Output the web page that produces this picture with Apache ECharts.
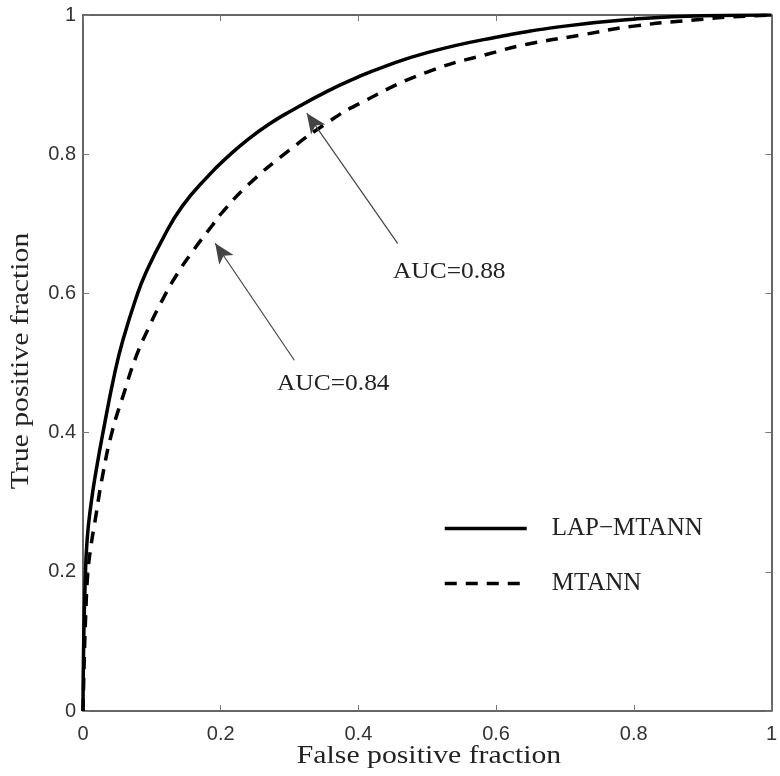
<!DOCTYPE html>
<html>
<head>
<meta charset="utf-8">
<script src="https://cdn.jsdelivr.net/npm/echarts@6/dist/echarts.min.js"></script>
<style>
  html, body { margin: 0; padding: 0; background: #fff; }
  #chart { width: 780px; height: 776px; }
</style>
</head>
<body>
<div id="chart"></div>
<script>
// ROC curves: [false positive fraction, true positive fraction]
const lapMtann = [
  [0, 0], [0.001, 0.1], [0.003, 0.18], [0.006, 0.246], [0.012, 0.3],
  [0.019, 0.345], [0.029, 0.4], [0.046, 0.485], [0.058, 0.533], [0.079, 0.599],
  [0.091, 0.629], [0.115, 0.677], [0.144, 0.725], [0.183, 0.77], [0.212, 0.798],
  [0.238, 0.82], [0.27, 0.843], [0.3, 0.861], [0.356, 0.891], [0.4, 0.911],
  [0.43, 0.923], [0.5, 0.946], [0.6, 0.968], [0.7, 0.984], [0.8, 0.994],
  [0.9, 0.999], [1, 1]
]
const mtann = [
  [0, 0], [0.002, 0.08], [0.004, 0.14], [0.007, 0.198], [0.012, 0.24],
  [0.017, 0.27], [0.029, 0.341], [0.043, 0.404], [0.058, 0.452], [0.077, 0.509],
  [0.096, 0.552], [0.115, 0.59], [0.135, 0.625], [0.159, 0.66], [0.188, 0.698],
  [0.202, 0.716], [0.24, 0.756], [0.3, 0.806], [0.356, 0.846], [0.4, 0.872],
  [0.5, 0.918], [0.6, 0.947], [0.645, 0.958], [0.722, 0.971], [0.8, 0.984],
  [0.9, 0.994], [0.938, 0.997], [1, 1]
]
const seriesNames = ['LAP\u2212MTANN', 'MTANN']
const xTitle = 'False positive fraction'
const yTitle = 'True positive fraction'
const aucLabels = ['AUC=0.88', 'AUC=0.84']
// arrows: [from, to] in data units
const arrow88 = [[0.457, 0.672], [0.325, 0.859]]
const arrow84 = [[0.307, 0.504], [0.192, 0.672]]

const serif = '"Liberation Serif", "Times New Roman", serif'
const sans = '"Liberation Sans", Arial, sans-serif'

const tick = { inside: true, length: 6, lineStyle: { color: '#777', width: 1 } }
const line = { show: true, onZero: false, lineStyle: { color: '#333', width: 1.5 } }
const label = { fontFamily: sans, fontSize: 20, color: '#333' }

const chart = echarts.init(document.getElementById('chart'))
chart.setOption({
  animation: false,
  grid: { left: 83, right: 4, top: 15, bottom: 65 },
  xAxis: [{
    type: 'value', min: 0, max: 1, interval: 0.2,
    axisLine: line, axisTick: tick, splitLine: { show: false },
    axisLabel: Object.assign({ margin: 13 }, label),
  }, {
    type: 'value', min: 0, max: 1, interval: 0.2, position: 'top',
    axisLine: line, axisTick: tick, splitLine: { show: false },
    axisLabel: { show: false },
  }],
  yAxis: [{
    type: 'value', min: 0, max: 1, interval: 0.2,
    axisLine: line, axisTick: tick, splitLine: { show: false },
    axisLabel: Object.assign({ margin: 7 }, label),
  }, {
    type: 'value', min: 0, max: 1, interval: 0.2, position: 'right',
    axisLine: line, axisTick: tick, splitLine: { show: false },
    axisLabel: { show: false },
  }],
  legend: {
    orient: 'vertical', left: 438, top: 511,
    itemWidth: 82, itemHeight: 14, itemGap: 30,
    itemStyle: { opacity: 0 },
    lineStyle: { width: 3.5 },
    textStyle: { fontFamily: serif, fontSize: 25, color: '#222', padding: [0, 0, 0, 20] },
    data: seriesNames,
  },
  series: [{
    name: seriesNames[0], type: 'line', data: lapMtann,
    smooth: 0.5, symbol: 'none',
    itemStyle: { color: '#000' },
    lineStyle: { color: '#000', width: 3.5 },
    markLine: {
      silent: true, symbol: ['none', 'arrow'], symbolSize: [13, 20],
      lineStyle: { color: '#444', width: 1.2, type: 'solid' },
      label: { show: false },
      data: [
        [{ coord: arrow88[0] }, { coord: arrow88[1] }],
        [{ coord: arrow84[0] }, { coord: arrow84[1] }],
      ],
    },
  }, {
    name: seriesNames[1], type: 'line', data: mtann,
    smooth: 0.5, symbol: 'none',
    itemStyle: { color: '#000' },
    lineStyle: { color: '#000', width: 3.5, type: [12, 9] },
  }],
  graphic: [{
    type: 'text', x: 429, y: 756, scaleX: 1.19,
    style: { text: xTitle, font: '25px ' + serif, fill: '#222', align: 'center', verticalAlign: 'middle' },
  }, {
    type: 'text', x: 21, y: 361, scaleX: 1.19, rotation: Math.PI / 2,
    style: { text: yTitle, font: '25px ' + serif, fill: '#222', align: 'center', verticalAlign: 'middle' },
  }, {
    type: 'text', x: 393, y: 272, scaleX: 1.06,
    style: { text: aucLabels[0], font: '24px ' + serif, fill: '#222', align: 'left', verticalAlign: 'middle' },
  }, {
    type: 'text', x: 277, y: 384, scaleX: 1.06,
    style: { text: aucLabels[1], font: '24px ' + serif, fill: '#222', align: 'left', verticalAlign: 'middle' },
  }],
})
</script>
</body>
</html>
